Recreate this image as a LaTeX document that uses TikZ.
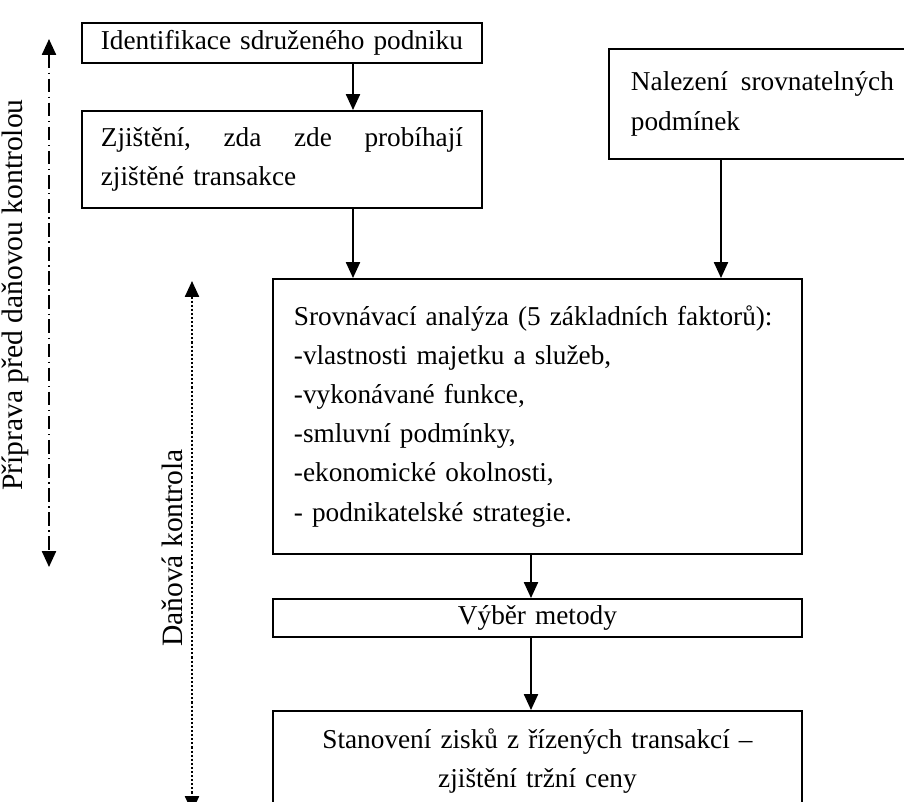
\documentclass[tikz,border=0pt]{standalone}
\usepackage{fontspec}
\setmainfont{Liberation Serif}
\usetikzlibrary{arrows.meta}

\begin{document}
\begin{tikzpicture}[
			x=0.44pt, y=-0.44pt,
			font=\fontsize{12}{17.2}\selectfont,
			box/.style={draw, line width=0.8pt, anchor=north west, inner ysep=1pt, align=left},
			wide/.style={text width=214.3pt, inner xsep=9.25pt},
			sidelabel/.style={rotate=90, font=\fontsize{13}{15}\selectfont},
			arr/.style={line width=0.8pt, -{Triangle[width=6.2pt,length=7pt]}},
			sidearr/.style={line width=0.8pt, {Triangle[width=6.2pt,length=7pt]}-{Triangle[width=6.2pt,length=7pt]}}
		]
		\useasboundingbox (0,0) rectangle (904,801);
		\clip (0,0) rectangle (904,801);
		\node[box, text width=159.3pt, inner xsep=8.35pt, minimum height=17.6pt] (idf) at (81,22) {Identifikace sdruženého podniku};
		\node[box, text width=159.3pt, inner xsep=8.35pt, minimum height=42.7pt] (zji) at (81,110) {Zjištění,\hfill zda\hfill zde\hfill probíhají\\zjištěné transakce};
		\node[box, text width=115.7pt, inner xsep=9.7pt, minimum height=48.4pt] (nal) at (608,48) {Nalezení\hfill srovnatelných\\podmínek};
		\node[box, wide, minimum height=121pt] (sro) at (272,278) {Srovnávací analýza (5 základních faktorů):\\-vlastnosti majetku a služeb,\\-vykonávané funkce,\\-smluvní podmínky,\\-ekonomické okolnosti,\\- podnikatelské strategie.};
		\node[box, wide, align=center, minimum height=16.7pt] (vyb) at (272,598) {Výběr metody};
		\node[box, wide, align=center, minimum height=44pt] (sta) at (272,710) {Stanovení zisků z řízených transakcí –\\zjištění tržní ceny};
		\coordinate (ax) at (353,0);
		\coordinate (bx) at (721,0);
		\coordinate (cx) at (531,0);
		\draw[arr] (idf.south -| ax) -- (zji.north -| ax);
		\draw[arr] (zji.south -| ax) -- (sro.north -| ax);
		\draw[arr] (nal.south -| bx) -- (sro.north -| bx);
		\draw[arr] (sro.south -| cx) -- (vyb.north -| cx);
		\draw[arr] (vyb.south -| cx) -- (sta.north -| cx);
		\coordinate (preptop) at (49,39);
		\coordinate (prepbot) at (49,567);
		\draw[sidearr, dash pattern=on 6pt off 2pt on 0.6pt off 2pt] (preptop) -- (prepbot);
		\node[sidelabel] (prep) at (15,295) {Příprava před daňovou kontrolou};
		\coordinate (dantop) at (192,281);
		\coordinate (danbot) at (192,812);
		\draw[sidearr, dash pattern=on 0.9pt off 0.9pt] (dantop) -- (danbot);
		\node[sidelabel] (dan) at (172,548) {Daňová kontrola};
	\end{tikzpicture}
\end{document}
